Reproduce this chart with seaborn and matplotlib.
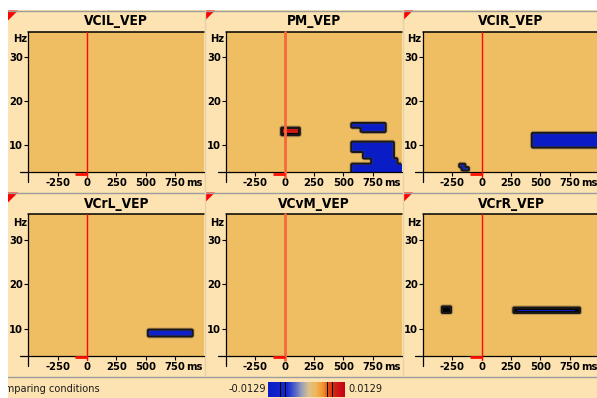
import numpy as np
import matplotlib
matplotlib.use("Agg")
import matplotlib.pyplot as plt
import seaborn as sns
from matplotlib import font_manager
from matplotlib.font_manager import FontProperties
from matplotlib.colors import LinearSegmentedColormap, ListedColormap, Normalize
from matplotlib.patches import Rectangle, Polygon
import matplotlib.transforms as mtransforms
import matplotlib.cm as mcm

# ---------------- data ----------------
panel_titles = ["VCIL_VEP", "PM_VEP", "VCIR_VEP", "VCrL_VEP", "VCvM_VEP", "VCrR_VEP"]
time_ticks = [-250, 0, 250, 500, 750]
freq_ticks = [10, 20, 30]
time_range = [-500, 1000]
freq_range = [3.9, 35.7]
baseline_window = [-100, 0]
color_limit = 0.0129
threshold_levels = [-0.0087, -0.0070, 0.0070, 0.0087]
footer_text = "Comparing conditions"

# significant clusters: (t_start ms, t_end ms, f_low Hz, f_high Hz, value)
clusters_VCIL = []
clusters_PM = [
    (-30, 130, 12.3, 14.1, 0.0070),
    (-10, 110, 12.7, 13.7, 0.0105),
    (570, 860, 14.0, 14.9, -0.0129),
    (650, 860, 13.1, 14.0, -0.0129),
    (570, 925, 8.5, 10.75, -0.0129),
    (670, 925, 7.0, 8.5, -0.0129),
    (740, 960, 5.8, 7.0, -0.0129),
    (575, 1000, 3.5, 5.8, -0.0129),
]
clusters_VCIR = [
    (430, 1000, 9.4, 12.7, -0.0129),
    (-185, -145, 4.9, 5.7, -0.0110),
    (-165, -115, 4.2, 5.1, -0.0110),
]
clusters_VCrL = [
    (520, 900, 8.3, 9.8, -0.0100),
]
clusters_VCvM = []
clusters_VCrR = [
    (-336, -264, 13.5, 14.9, -0.0070),
    (270, 840, 13.5, 14.8, -0.0070),
    (300, 800, 13.95, 14.35, -0.0105),
]
panel_clusters = [clusters_VCIL, clusters_PM, clusters_VCIR,
                  clusters_VCrL, clusters_VCvM, clusters_VCrR]

# ---------------- style ----------------
sns.set_theme(style="white")
plt.rcParams['font.family'] = ['Liberation Sans', 'DejaVu Sans']
plt.rcParams['contour.negative_linestyle'] = 'solid'


def find_narrow(bold):
    best = None
    for f in font_manager.fontManager.ttflist:
        nm = (f.name + ' ' + f.fname).lower()
        narrow = ('narrow' in nm or 'condensed' in nm or
                  f.stretch in ('condensed', 'semi-condensed', 'extra-condensed'))
        if not narrow:
            continue
        w = f.weight if isinstance(f.weight, int) else (700 if 'bold' in str(f.weight) else 400)
        if bold != (w >= 600):
            continue
        if f.style != 'normal':
            continue
        score = 0
        if 'liberation' in nm:
            score = 3
        elif 'dejavu' in nm and 'sans' in nm and 'mono' not in nm:
            score = 2
        elif 'sans' in nm:
            score = 1
        if best is None or score > best[0]:
            best = (score, f.fname)
    return best[1] if best else None


nb = find_narrow(True)
nr = find_narrow(False)
if nb is not None:
    FP_B = lambda s: FontProperties(fname=nb, size=s)
    FP_R = lambda s: FontProperties(fname=nr if nr else nb, size=s)
    SCALE = 1.0
else:
    FP_B = lambda s: FontProperties(family='Liberation Sans', weight='bold', size=s)
    FP_R = lambda s: FontProperties(family='Liberation Sans', size=s)
    SCALE = 0.86

PEACH = '#FDE3B1'
ORANGE = '#EFBE63'
GRAY = '#9C9C9C'

# colormap (blue - grey - orange - red) with black threshold lines
base = LinearSegmentedColormap.from_list("tf", [
    (0.00, '#0A1CC6'), (0.25, '#1428D0'), (0.34, '#4A5CC8'),
    (0.44, '#9AA0B8'), (0.53, '#DCC08C'), (0.62, '#F0B85A'),
    (0.72, '#F0902A'), (0.78, '#E24E12'), (0.86, '#D22412'),
    (1.00, '#C20018')])
cols = base(np.linspace(0, 1, 256))
for lv in threshold_levels:
    idx = int((lv + color_limit) / (2 * color_limit) * 256)
    cols[max(idx - 1, 0):idx + 2] = [0, 0, 0, 1]
cmap = ListedColormap(cols)

# time-frequency grid
T0, DT, NT = -500.0, 10.0, 150
F0, DF, NF = 3.5, 0.25, 130
t_centers = T0 + DT * (np.arange(NT) + 0.5)
f_centers = F0 + DF * (np.arange(NF) + 0.5)


def tx(t):
    return (t - T0) / DT


def fy(f):
    return (f - F0) / DF


def build_map(clusters):
    m = np.zeros((NF, NT))
    for (t0, t1, f0, f1, v) in clusters:
        sel_t = (t_centers >= t0) & (t_centers <= t1)
        sel_f = (f_centers >= f0) & (f_centers <= f1)
        m[np.ix_(sel_f, sel_t)] = v
    return m


W, H = 597, 398
fig = plt.figure(figsize=(W / 100, H / 100), dpi=100)
fig.patch.set_facecolor('white')

bg = fig.add_axes([0, 0, 1, 1])
bg.set_xlim(0, W)
bg.set_ylim(H, 0)
bg.axis('off')
bg.set_zorder(-10)
bg.add_patch(Rectangle((8, 10), W - 8, H - 10, facecolor=PEACH, edgecolor='none'))
bg.plot([8, W], [10.5, 10.5], color=GRAY, lw=1)
bg.plot([8, W], [192.5, 192.5], color=GRAY, lw=1)
bg.plot([8, W], [376.5, 376.5], color=GRAY, lw=1)
for xv in (205, 403):
    bg.plot([xv, xv], [10, 376], color='#E6D2A8', lw=1)

col_left = [28.4, 226.0, 423.0]
col_w = 175.9
row_top = [32.0, 214.3]
row_bot = [172.0, 355.7]
frame_left = [8, 205, 403]
frame_top = [10.5, 192.5]
title_y = [21.5, 204.0]
hz_y = [39.5, 223.5]


def px_axes(x0, y0, x1, y1):
    return fig.add_axes([x0 / W, 1 - y1 / H, (x1 - x0) / W, (y1 - y0) / H])


TICK_FS = 8.0 * SCALE
TITLE_FS = 9.8 * SCALE
FOOT_FS = 7.8 * SCALE
for k, title in enumerate(panel_titles):
    r, c = divmod(k, 3)
    x0 = col_left[c]
    y0, y1 = row_top[r], row_bot[r]
    hpx = y1 - y0
    ax = px_axes(x0, y0, x0 + col_w, y1)
    ax.set_facecolor(ORANGE)
    data = build_map(panel_clusters[k])
    mask = data == 0
    sns.heatmap(data, ax=ax, cmap=cmap, vmin=-color_limit, vmax=color_limit,
                mask=mask, cbar=False, xticklabels=False, yticklabels=False)
    ax.set_facecolor(ORANGE)
    X = np.arange(NT) + 0.5
    Y = np.arange(NF) + 0.5
    lv = [l for l in (-0.0035, 0.0035) if data.min() < l < data.max()]
    if lv:
        halo = [l * 0.3 for l in lv]
        ax.contour(X, Y, data, levels=sorted(halo), colors='#6E5A40',
                   linewidths=2.4, alpha=0.35, linestyles='solid')
        ax.contour(X, Y, data, levels=sorted(lv), colors='#181818',
                   linewidths=1.4, linestyles='solid')
    ax.set_xlim(tx(time_range[0]), tx(time_range[1]))
    ax.set_ylim(fy(freq_range[0]), fy(freq_range[1]))
    for s in ax.spines.values():
        s.set_visible(False)
    ax.set_xticks([tx(t) for t in time_ticks])
    ax.set_xticklabels([str(t) for t in time_ticks])
    ax.set_yticks([fy(f) for f in freq_ticks])
    ax.set_yticklabels([str(f) for f in freq_ticks])
    ax.tick_params(axis='x', bottom=True, direction='out', length=3, width=0.8,
                   pad=1.5, colors='black')
    ax.tick_params(axis='y', left=True, direction='out', length=3, width=0.8,
                   pad=0.8, colors='black')
    for lab in ax.get_xticklabels() + ax.get_yticklabels():
        lab.set_fontproperties(FP_B(TICK_FS))
    ax.set_xlabel('')
    ax.set_ylabel('')
    # axis lines
    ax.plot([0, 0], [1, -10 / hpx], transform=ax.transAxes, color='black', lw=0.9, clip_on=False)
    ax.plot([-8 / col_w, 1], [0, 0], transform=ax.transAxes, color='black', lw=0.9, clip_on=False)
    ax.plot([0, 1], [1, 1], transform=ax.transAxes, color='black', lw=1.1, clip_on=False)
    # zero line and baseline marker
    blend = mtransforms.blended_transform_factory(ax.transData, ax.transAxes)
    if c == 1:
        zc, zw = '#F8683A', 2.0
    else:
        zc, zw = '#FF0A00', 1.0
    ax.plot([tx(0), tx(0)], [1, -4.5 / hpx], transform=blend, color=zc, lw=zw, clip_on=False)
    ax.plot([tx(baseline_window[0]), tx(baseline_window[1])], [-1.6 / hpx] * 2,
            transform=blend, color='#FF1000', lw=2.0, clip_on=False, solid_capstyle='butt')
    # labels around the panel
    bg.text(x0 + col_w / 2, title_y[r], title, ha='center', va='center',
            fontproperties=FP_B(TITLE_FS), color='black')
    bg.text(x0 - 8.4, hz_y[r], 'Hz', ha='center', va='center',
            fontproperties=FP_B(TICK_FS), color='black')
    bg.text(x0 + 158, y1 + 11.2, 'ms', ha='left', va='center',
            fontproperties=FP_B(TICK_FS), color='black')
    fx, ft = frame_left[c], frame_top[r]
    bg.add_patch(Polygon([(fx, ft), (fx + 10, ft), (fx, ft + 10)], closed=True,
                         facecolor='#FF0000', edgecolor='none'))

# footer
bar = px_axes(8, 377, W, H)
bar.axis('off')
bar.set_xlim(0, W)
bar.set_ylim(H, 377)
bar.text(93, 389, footer_text, ha='right', va='center', fontproperties=FP_R(FOOT_FS),
         color='#1a1a1a', clip_on=True)

cax = px_axes(268, 382, 345, 397)
cb = fig.colorbar(mcm.ScalarMappable(norm=Normalize(-color_limit, color_limit), cmap=cmap),
                  cax=cax, orientation='horizontal')
cb.outline.set_visible(False)
cax.set_xticks([])
bg.text(266, 389.5, f"-{color_limit}", ha='right', va='center', fontproperties=FP_R(FOOT_FS),
        color='#1a1a1a')
bg.text(348, 389.5, f"{color_limit}", ha='left', va='center', fontproperties=FP_R(FOOT_FS),
        color='#1a1a1a')

fig.savefig("out.png", dpi=100, facecolor='white')
